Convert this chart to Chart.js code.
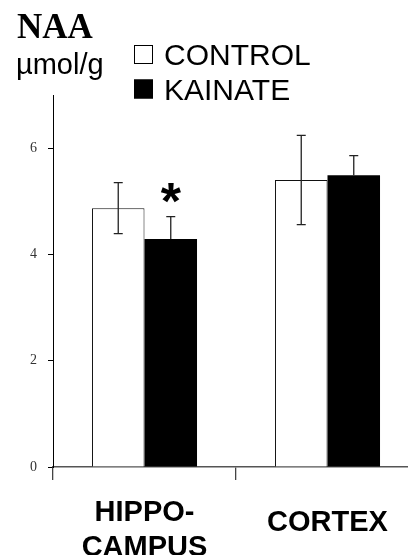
<!DOCTYPE html>
<html><head><meta charset="utf-8">
<script src="https://cdn.jsdelivr.net/npm/chart.js@4.4.0/dist/chart.umd.min.js"></script>
<style>html,body{margin:0;padding:0;overflow:hidden;background:#fff}canvas{display:block}</style>
</head><body>
<canvas id="c" width="419" height="555"></canvas>
<script>
// ---- data ----
const categories = [['HIPPO-', 'CAMPUS'], 'CORTEX'];
const seriesNames = ['CONTROL', 'KAINATE'];
const controlValues = [4.87, 5.40];
const kainateValues = [4.29, 5.49];
const controlErrors = [0.48, 0.84];
const kainateErrors = [0.42, 0.37];
const kainateSignificant = [true, false];
const yTickValues = [0, 2, 4, 6];
const yMin = 0, yMax = 7;
const titleText = 'NAA';
const unitText = '\u00b5mol/g';

const errorBars = {
  id: 'errorBars',
  afterDatasetsDraw(chart) {
    const ctx = chart.ctx, ys = chart.scales.y;
    chart.data.datasets.forEach((ds, di) => {
      const meta = chart.getDatasetMeta(di);
      meta.data.forEach((bar, i) => {
        const v = ds.data[i], e = ds.errors[i];
        const top = ys.getPixelForValue(v + e);
        const bot = ds.errorBoth ? ys.getPixelForValue(v - e) : bar.y;
        ctx.save();
        ctx.strokeStyle = ds.errorColor;
        ctx.lineWidth = 1.3;
        ctx.beginPath();
        ctx.moveTo(bar.x, top); ctx.lineTo(bar.x, bot);
        ctx.moveTo(bar.x - 4.5, top); ctx.lineTo(bar.x + 4.5, top);
        if (ds.errorBoth) { ctx.moveTo(bar.x - 4.5, bot); ctx.lineTo(bar.x + 4.5, bot); }
        ctx.stroke();
        if (ds.significant && ds.significant[i]) {
          ctx.font = 'bold 52px "Liberation Sans", Arial, sans-serif';
          ctx.fillStyle = '#000';
          ctx.textAlign = 'center';
          ctx.textBaseline = 'alphabetic';
          const m = ctx.measureText('*');
          const bottom = top - 14;
          ctx.fillText('*', bar.x, bottom - m.actualBoundingBoxDescent);
        }
        ctx.restore();
      });
    });
  }
};

const headerAndLegend = {
  id: 'headerAndLegend',
  afterDraw(chart) {
    const ctx = chart.ctx;
    ctx.save();
    ctx.fillStyle = '#000';
    ctx.textAlign = 'left';
    ctx.textBaseline = 'alphabetic';
    ctx.font = 'bold 35px "Liberation Serif", "Times New Roman", serif';
    ctx.fillText(titleText, 17, 38);
    ctx.font = '29px "Liberation Sans", Arial, sans-serif';
    ctx.fillText(unitText, 16, 74);
    chart.data.datasets.forEach((ds, i) => {
      const by = 45 + i * 34.5;
      ctx.fillStyle = ds.backgroundColor;
      ctx.fillRect(134, by, 19, 19);
      ctx.strokeStyle = '#000';
      ctx.lineWidth = 1;
      ctx.strokeRect(134.5, by + 0.5, 18, 18);
      ctx.fillStyle = '#000';
      ctx.font = '30px "Liberation Sans", Arial, sans-serif';
      ctx.fillText(ds.label, 164, 65 + i * 35);
    });
    ctx.restore();
  }
};

new Chart(document.getElementById('c'), {
  type: 'bar',
  data: {
    labels: categories,
    datasets: [
      { label: seriesNames[0], data: controlValues, errors: controlErrors, errorBoth: true,
        errorColor: '#222', backgroundColor: '#ffffff', borderColor: '#111', borderWidth: 1,
        borderSkipped: 'bottom' },
      { label: seriesNames[1], data: kainateValues, errors: kainateErrors, errorBoth: false,
        errorColor: '#222', significant: kainateSignificant,
        backgroundColor: '#000000', borderColor: '#000', borderWidth: 0 }
    ]
  },
  options: {
    responsive: false,
    animation: false,
    devicePixelRatio: 1,
    layout: { padding: { left: 0, right: 0, top: 95, bottom: 0 } },
    categoryPercentage: 0.574,
    barPercentage: 1.0,
    plugins: { legend: { display: false }, title: { display: false }, tooltip: { enabled: false } },
    scales: {
      x: {
        offset: true,
        grid: { offset: true, drawOnChartArea: false, drawTicks: true, tickLength: 13, color: '#444', lineWidth: 1.3 },
        border: { display: true, color: '#555', width: 1.5 },
        ticks: {
          color: '#000',
          padding: 15,
          crossAlign: 'near',
          font: (c) => ({ family: '"Liberation Sans", Arial, sans-serif', size: 29, weight: 'bold',
                          lineHeight: (c.index === 1 ? '55px' : '35px') })
        },
        afterFit(s) { s.height = 88; }
      },
      y: {
        min: yMin, max: yMax,
        afterBuildTicks(s) { s.ticks = yTickValues.map(v => ({ value: v })); },
        grid: { drawOnChartArea: false, drawTicks: true, tickLength: 5, color: '#000', lineWidth: 1 },
        border: { display: true, color: '#000', width: 1 },
        ticks: { color: '#333', padding: 11,
                 font: { family: '"Liberation Serif", "Times New Roman", serif', size: 14 } },
        afterFit(s) { s.width = 53; }
      }
    }
  },
  plugins: [errorBars, headerAndLegend]
});
</script>
</body></html>
